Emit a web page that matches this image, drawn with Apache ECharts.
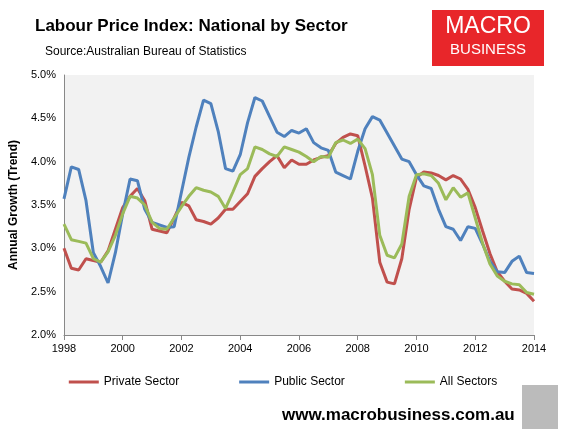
<!DOCTYPE html><html><head><meta charset="utf-8"><script src="https://cdn.jsdelivr.net/npm/echarts@6/dist/echarts.min.js"></script></head><body style="margin:0"><div id="c" style="width:566px;height:433px"></div><script>
const startYear=1998;
const privateSector=[3.0,2.77,2.75,2.88,2.86,2.84,2.97,3.22,3.47,3.60,3.69,3.55,3.22,3.20,3.18,3.35,3.53,3.49,3.33,3.31,3.28,3.35,3.45,3.45,3.54,3.63,3.83,3.92,4.00,4.07,3.93,4.02,3.97,3.97,4.02,4.05,4.07,4.21,4.28,4.32,4.30,3.95,3.58,2.84,2.61,2.59,2.88,3.45,3.82,3.88,3.87,3.84,3.79,3.84,3.80,3.68,3.47,3.2,2.94,2.73,2.62,2.53,2.52,2.48,2.39];
const publicSector=[3.57,3.94,3.91,3.55,2.95,2.79,2.60,2.95,3.40,3.80,3.78,3.45,3.30,3.27,3.24,3.25,3.65,4.05,4.40,4.71,4.67,4.35,3.92,3.89,4.08,4.45,4.74,4.70,4.52,4.34,4.29,4.36,4.33,4.38,4.22,4.16,4.13,3.88,3.84,3.80,4.12,4.38,4.52,4.48,4.33,4.18,4.03,4.00,3.85,3.72,3.69,3.45,3.25,3.22,3.09,3.25,3.23,3.05,2.85,2.73,2.72,2.85,2.91,2.72,2.71];
const allSectors=[3.28,3.10,3.08,3.06,2.88,2.84,2.96,3.15,3.40,3.60,3.58,3.50,3.30,3.23,3.22,3.35,3.48,3.60,3.70,3.67,3.65,3.60,3.46,3.65,3.85,3.92,4.17,4.14,4.09,4.06,4.17,4.14,4.11,4.06,4.00,4.06,4.05,4.22,4.25,4.21,4.26,4.15,3.85,3.15,2.92,2.89,3.05,3.60,3.85,3.86,3.84,3.75,3.56,3.70,3.59,3.64,3.35,3.06,2.82,2.68,2.62,2.59,2.58,2.49,2.47];
const pts=a=>a.map((v,i)=>[startYear+i/4,v]);
const mk=(name,d,color)=>({name,type:'line',data:pts(d),showSymbol:false,symbol:'rect',lineStyle:{width:3,color},itemStyle:{color}});
const chart=echarts.init(document.getElementById('c'));
chart.setOption({
 animation:false,
 title:[{text:'Labour Price Index: National by Sector',left:30,top:13,textStyle:{fontSize:17,fontWeight:'bold',fontFamily:'Liberation Sans',color:'#000'}},
 {text:'Source:Australian Bureau of Statistics',left:40,top:41,textStyle:{fontSize:12,fontWeight:'normal',fontFamily:'Liberation Sans',color:'#000'}},
 {text:'www.macrobusiness.com.au',left:277,top:402,textStyle:{fontSize:17,fontWeight:'bold',fontFamily:'Liberation Sans',color:'#000'}}],
 graphic:[{type:'rect',shape:{x:432,y:10,width:112,height:56},style:{fill:'#e8262a'}},
 {type:'text',style:{x:488,y:27,text:'MACRO',fill:'#fff',font:'23px Liberation Sans',align:'center',verticalAlign:'middle'}},
 {type:'text',style:{x:488,y:50,text:'BUSINESS',fill:'#fff',font:'15px Liberation Sans',align:'center',verticalAlign:'middle'}},
 {type:'rect',shape:{x:522,y:385,width:36,height:44},style:{fill:'#bbb'}}],
 grid:{left:62,right:32,top:75,bottom:98,backgroundColor:'#f2f2f2',show:true,borderWidth:0},
 legend:{bottom:40,left:'center',itemWidth:30,itemHeight:3,itemGap:60,icon:'rect',textStyle:{fontSize:12,fontFamily:'Liberation Sans',color:'#000'}},
 xAxis:{type:'value',min:1998,max:2014,interval:2,axisLine:{lineStyle:{color:'#888'}},axisTick:{show:true,length:5},splitLine:{show:false},axisLabel:{formatter:v=>String(v),color:'#000',fontSize:11,fontFamily:'Liberation Sans'}},
 yAxis:{type:'value',min:2,max:5,interval:0.5,name:'Annual Growth (Trend)',nameLocation:'middle',nameGap:40,nameTextStyle:{fontSize:12,fontWeight:'bold',fontFamily:'Liberation Sans',color:'#000'},axisLine:{show:true,lineStyle:{color:'#888'}},axisTick:{show:false},splitLine:{show:false},axisLabel:{formatter:v=>v.toFixed(1)+'%',color:'#000',fontSize:11,fontFamily:'Liberation Sans'}},
 series:[mk('Private Sector',privateSector,'#c0504d'),mk('Public Sector',publicSector,'#4f81bd'),mk('All Sectors',allSectors,'#9bbb59')]
});
</script></body></html>
